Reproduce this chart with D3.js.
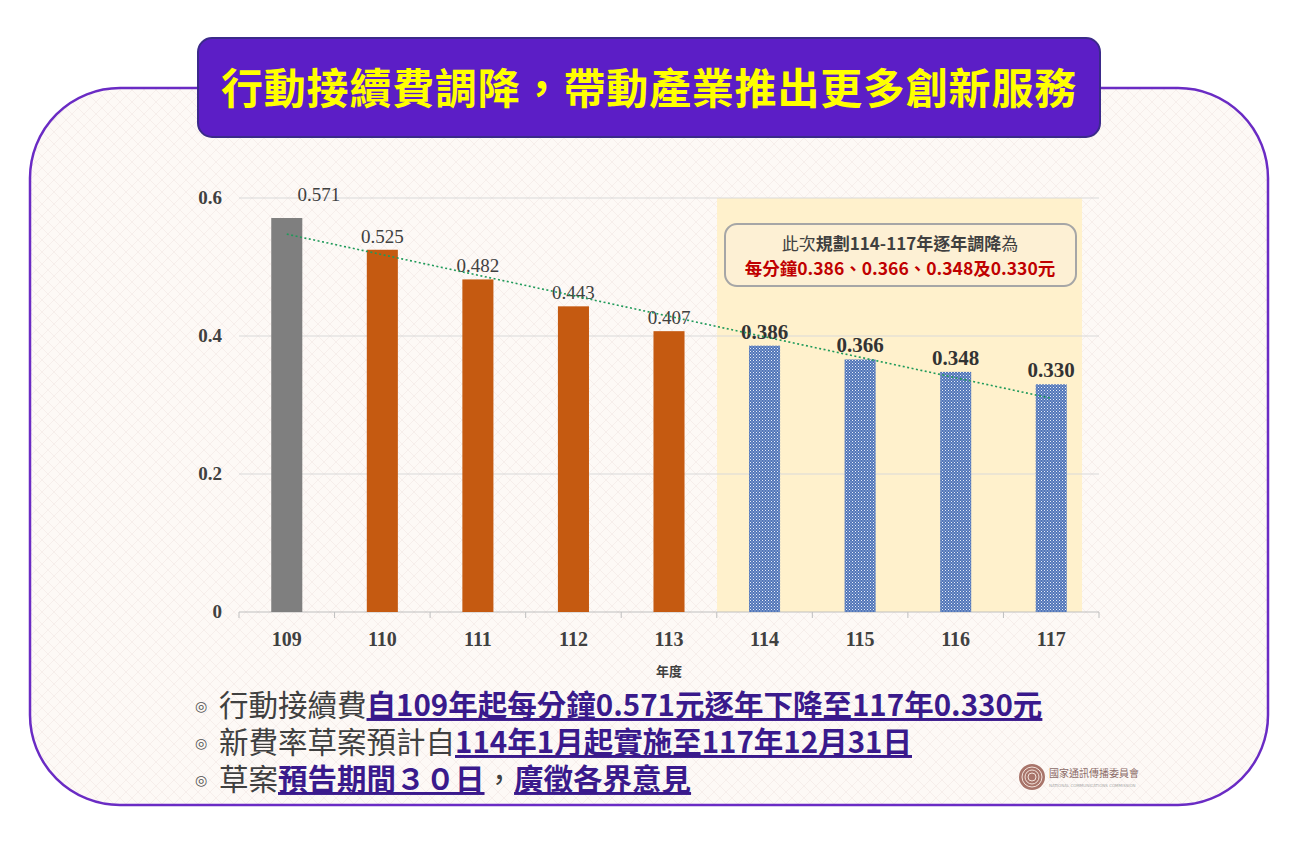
<!DOCTYPE html>
<html><head><meta charset="utf-8">
<script src="https://cdn.jsdelivr.net/npm/d3@7"></script>
<style>body{margin:0;background:#fff}svg{display:block}</style>
</head><body>
<svg id="c" width="1294" height="845"></svg>
<script>
// chart data
const years = ["109","110","111","112","113","114","115","116","117"];
const rates = [0.571,0.525,0.482,0.443,0.407,0.386,0.366,0.348,0.330];
const yTicks = [0,0.2,0.4,0.6];
const planned = ["114","115","116","117"];
const notes = [
  [["行動接續費",0],["自109年起每分鐘0.571元逐年下降至117年0.330元",1]],
  [["新費率草案預計自",0],["114年1月起實施至117年12月31日",1]],
  [["草案",0],["預告期間３０日",1],["，",0],["廣徵各界意見",1]]
];

const svg = d3.select("#c");
const defs = svg.append("defs");
const bg = defs.append("pattern").attr("id","bg").attr("width",12).attr("height",12).attr("patternUnits","userSpaceOnUse");
bg.append("rect").attr("width",12).attr("height",12).attr("fill","#fdf9f6");
bg.append("path").attr("d","M0,6L6,0L12,6L6,12Z").attr("fill","none").attr("stroke","#f3eae6").attr("stroke-width",0.7);
const chk = defs.append("pattern").attr("id","chk").attr("width",3).attr("height",3).attr("patternUnits","userSpaceOnUse");
chk.append("rect").attr("width",3).attr("height",3).attr("fill","#4f74b8");
chk.append("rect").attr("width",1).attr("height",1).attr("fill","#e8eef8");
chk.append("rect").attr("x",1.5).attr("y",1.5).attr("width",1).attr("height",1).attr("fill","#c5d2ea");

// frame
svg.append("rect").attr("x",30).attr("y",88).attr("width",1238).attr("height",717).attr("rx",90)
  .attr("fill","url(#bg)").attr("stroke","#6a2bc4").attr("stroke-width",2.5);
svg.append("rect").attr("x",198).attr("y",38).attr("width",902).attr("height",99).attr("rx",14)
  .attr("fill","#5c1ec6").attr("stroke","#3b2a8a").attr("stroke-width",2);
svg.append("text").attr("x",649).attr("y",104).attr("text-anchor","middle")
  .attr("font-family","Noto Sans CJK TC").attr("font-weight","bold").attr("font-size",42)
  .attr("letter-spacing",0.8).attr("fill","#ffff00").text("行動接續費調降，帶動產業推出更多創新服務");

const x = d3.scaleBand().domain(years).range([239,1099]).paddingInner(0.675).paddingOuter(0.3375);
const y = d3.scaleLinear().domain([0,0.6]).range([612,198]);
const serif = "Liberation Serif";

// planned period highlight
svg.append("rect").attr("x",x("114")-32).attr("y",y(0.6)).attr("width",x.step()*3.82).attr("height",y(0)-y(0.6)).attr("fill","#fff1cc");

const g = svg.append("g");
g.selectAll("line.grid").data(yTicks).join("line")
  .attr("x1",239).attr("x2",1099).attr("y1",d=>y(d)).attr("y2",d=>y(d))
  .attr("stroke",d=>d===0?"#bfbfbf":"#d9d9d9");
g.selectAll("text.yt").data(yTicks).join("text")
  .attr("x",222).attr("y",d=>y(d)+6).attr("text-anchor","end")
  .attr("font-family",serif).attr("font-weight","bold").attr("font-size",19).attr("fill","#404040")
  .text(d=>d===0?"0":d.toFixed(1));
// x ticks
g.selectAll("line.xt").data(d3.range(years.length+1)).join("line")
  .attr("x1",i=>239+i*x.step()).attr("x2",i=>239+i*x.step()).attr("y1",612).attr("y2",618).attr("stroke","#bfbfbf");
g.selectAll("text.xl").data(years).join("text")
  .attr("x",d=>x(d)+x.bandwidth()/2).attr("y",646).attr("text-anchor","middle")
  .attr("font-family",serif).attr("font-weight","bold").attr("font-size",20).attr("fill","#404040").text(d=>d);
g.append("text").attr("x",669).attr("y",676).attr("text-anchor","middle")
  .attr("font-family","Noto Sans CJK TC").attr("font-weight","bold").attr("font-size",13).attr("fill","#404040").text("年度");

// bars
g.selectAll("rect.bar").data(years).join("rect")
  .attr("x",d=>x(d)).attr("width",x.bandwidth())
  .attr("y",(d,i)=>y(rates[i])).attr("height",(d,i)=>y(0)-y(rates[i]))
  .attr("fill",(d,i)=>i===0?"#7f7f7f":planned.includes(d)?"url(#chk)":"#c55a11");
// labels
g.selectAll("text.val").data(years).join("text")
  .attr("x",(d,i)=>x(d)+x.bandwidth()/2+(i===0?32:0))
  .attr("y",(d,i)=>y(rates[i])-(i===0?17:7))
  .attr("text-anchor","middle").attr("font-family",serif)
  .attr("font-weight",d=>planned.includes(d)?"bold":"normal")
  .attr("font-size",d=>planned.includes(d)?21:19)
  .attr("fill",d=>planned.includes(d)?"#333":"#404040")
  .text((d,i)=>rates[i].toFixed(3));

// linear trend line
const n = rates.length, mx = (n-1)/2, my = d3.mean(rates);
const slope = d3.sum(rates,(v,i)=>(i-mx)*(v-my))/d3.sum(rates,(v,i)=>(i-mx)**2);
const cx = i=>x(years[i])+x.bandwidth()/2;
g.append("line").attr("x1",cx(0)).attr("y1",y(my-slope*mx)).attr("x2",cx(n-1)).attr("y2",y(my+slope*(n-1-mx)))
  .attr("stroke","#1f9a5a").attr("stroke-width",1.6).attr("stroke-dasharray","2,2.5");

// annotation box
svg.append("rect").attr("x",725).attr("y",224).attr("width",351).attr("height",62).attr("rx",12)
  .attr("fill","#fdf0d4").attr("stroke","#a6a6a6").attr("stroke-width",2);
const a1 = svg.append("text").attr("x",900).attr("y",250).attr("text-anchor","middle")
  .attr("font-family","Noto Sans CJK TC").attr("font-size",17).attr("fill","#404040");
a1.append("tspan").text("此次");
a1.append("tspan").attr("font-weight","bold").text("規劃114-117年逐年調降");
a1.append("tspan").text("為");
svg.append("text").attr("x",900).attr("y",275).attr("text-anchor","middle")
  .attr("font-family","Noto Sans CJK TC").attr("font-size",17.5).attr("font-weight","bold").attr("fill","#c00000")
  .text("每分鐘0.386、0.366、0.348及0.330元");

// bottom notes
notes.forEach((line,li)=>{
  const by = 716+li*37;
  svg.append("text").attr("x",195).attr("y",by-5).attr("font-size",14).attr("fill","#555")
    .attr("font-family","DejaVu Sans").text("◎");
  const t = svg.append("text").attr("x",219).attr("y",by).attr("font-family","Noto Sans CJK TC").attr("font-size",29.5);
  line.forEach(([s,u])=>{
    t.append("tspan").attr("fill",u?"#3a1a8c":"#404040").attr("font-weight",u?"bold":"normal")
      .attr("text-decoration",u?"underline":null).text(s);
  });
});

// logo
const lg = svg.append("g").attr("transform","translate(1032,777)");
lg.append("circle").attr("r",13).attr("fill","#a8746a");
[4,7,10].forEach(r=>lg.append("circle").attr("r",r).attr("fill","none").attr("stroke","#f3e3dc").attr("stroke-width",1));
lg.append("text").attr("x",17).attr("y",0).attr("font-family","Noto Sans CJK TC").attr("font-size",10).attr("fill","#8a6a66").text("國家通訊傳播委員會");
lg.append("text").attr("x",17).attr("y",10).attr("font-family","DejaVu Sans").attr("font-size",4).attr("fill","#aaa").text("NATIONAL COMMUNICATIONS COMMISSION");
</script>
</body></html>
